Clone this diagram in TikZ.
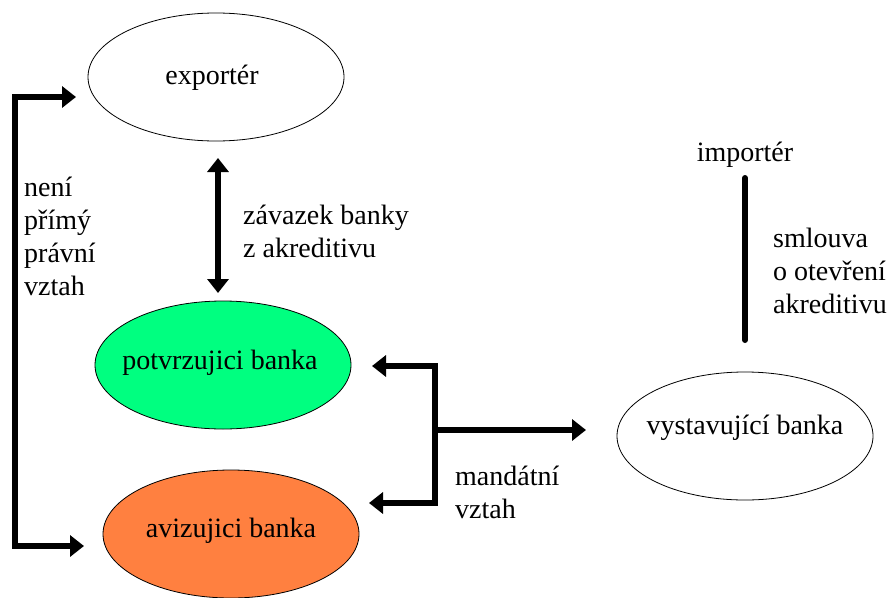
\documentclass[tikz,border=0pt]{standalone}
\usepackage{fontspec}
\setmainfont{Liberation Serif}
\newfontfamily\tnr{Liberation Serif}
\usetikzlibrary{shapes.geometric,arrows.meta}
\definecolor{pgreen}{RGB}{0,255,128}
\definecolor{porange}{RGB}{255,128,64}
\tikzset{
  oval/.style={ellipse,draw=black,line width=0.8pt,minimum width=256pt,minimum height=128pt,inner sep=0pt},
  intext/.style={inner sep=0pt,font=\tnr\fontsize{28}{33}\selectfont},
  lbl/.style={anchor=base west,inner sep=0pt,align=left,font=\tnr\fontsize{28}{33}\selectfont},
  thick arrow/.style={line width=6pt,{Triangle[width=21pt,length=14pt]}-{Triangle[width=21pt,length=14pt]}},
  single arrow/.style={line width=6pt,-{Triangle[width=21pt,length=14pt]}},
}
\begin{document}
\begin{tikzpicture}[x=1pt,y=-1pt]
\useasboundingbox (0,0) rectangle (893,597);
\node[oval] (exp) at (216,77) {};
\node[oval,fill=pgreen] (pot) at (223,365) {};
\node[oval,fill=porange] (avi) at (231,534) {};
\node[oval] (vys) at (745,436) {};
\node[intext,anchor=base] (expt) at (212,84) {exportér};
\node[intext,anchor=base] (pott) at (220,369) {potvrzujici banka};
\node[intext,anchor=base] (avit) at (231,537) {avizujici banka};
\node[intext,anchor=base] (vyst) at (745,434) {vystavující banka};
\node[intext,anchor=base] (imp) at (745,161) {importér};
% double arrow exporter - potvrzujici
\coordinate (da1) at (218,158);
\coordinate (da2) at (218,293);
\draw[thick arrow] (da1) -- (da2);
\node[lbl] (zav) at (243,257) {závazek banky\\z akreditivu};
% left bracket
\coordinate (l1) at (76,97);
\coordinate (l2) at (84,546);
\draw[thick arrow] (l1) -- (15,97) -- (15,546) -- (l2);
\node[lbl] (neni) at (24,295) {není\\přímý\\právní\\vztah};
% right bracket
\coordinate (r1) at (372,366);
\coordinate (r2) at (369,503);
\coordinate (rm) at (435,430);
\coordinate (r3) at (586,430);
\draw[thick arrow,line join=miter] (r1) -- (435,366) -- (435,503) -- (r2);
\draw[single arrow] (rm) -- (r3);
\node[lbl] (mand) at (455,518) {mandátní\\vztah};
% importer line
\coordinate (i1) at (745,178);
\coordinate (i2) at (745,340);
\draw[line width=6pt,line cap=round] (i1) -- (i2);
\node[lbl] (sml) at (773,313) {smlouva\\o otevření\\akreditivu};
\end{tikzpicture}
\end{document}
